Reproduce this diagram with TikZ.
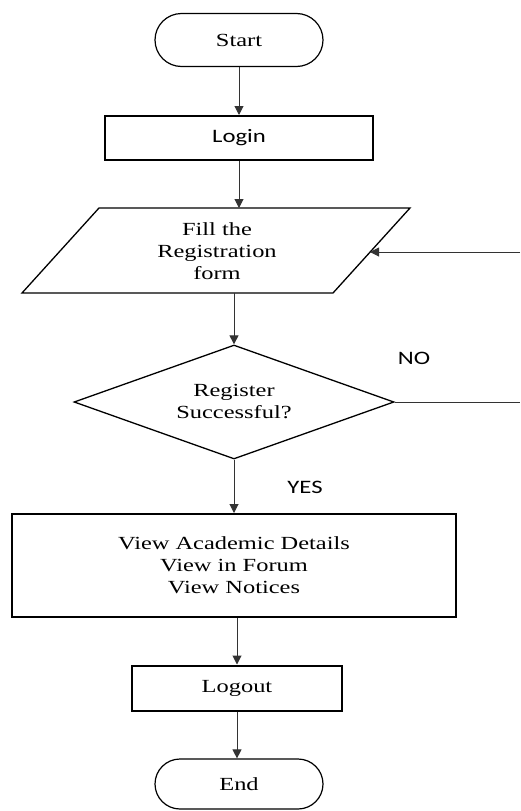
\documentclass[tikz,border=0pt]{standalone}
\usepackage{fontspec}
\setmainfont[FakeStretch=1.32]{Liberation Serif}
\newfontfamily\sansf[FakeStretch=1.3]{Carlito}
\usetikzlibrary{shapes.geometric,shapes.misc,arrows.meta}
\begin{document}
\begin{tikzpicture}[x=1pt,y=-1pt,
  txt/.style={font=\fontsize{18.5}{22}\selectfont, align=center, inner sep=0pt},
  stxt/.style={font=\sansf\fontsize{19}{22}\selectfont, inner sep=0pt},
  term/.style={draw=black, line width=1.2pt, rounded rectangle, minimum width=168pt, minimum height=53pt, inner sep=0pt, txt},
  boxx/.style={draw=black, line width=2pt, rectangle, inner sep=0pt},
  dec/.style={draw=black, line width=1.3pt, diamond, aspect=2.8, minimum width=320pt, minimum height=114pt, inner sep=0pt, txt},
  arr/.style={draw=black!80, line width=1pt, -{Triangle[width=9pt,length=9pt]}},
  ln/.style={draw=black!80, line width=1pt}
]
\useasboundingbox (0,0) rectangle (520,811);

\node[term] (start) at (239,40) {Start};
\node[boxx, minimum width=268pt, minimum height=44pt, stxt] (login) at (239,138) {Login};

% parallelogram
\draw[line width=1.3pt] (99,208) -- (410,208) -- (333,293) -- (22,293) -- cycle;
\coordinate (ptop) at (239,208);
\coordinate (pbot) at (234,293);
\coordinate (pright) at (370,252);
\node[txt] (fill) at (217,251) {Fill the\\Registration\\form};

\node[dec] (diam) at (234,402) {Register\\Successful?};

\node[boxx, minimum width=444pt, minimum height=103pt, txt] (view) at (234,565.5) {View Academic Details\\View in Forum\\View Notices};

\node[boxx, minimum width=210pt, minimum height=45pt, txt] (logout) at (237,688) {Logout};

\node[term, minimum height=50pt] (end) at (239,784) {End};

\node[stxt] (no) at (414,358) {NO};
\node[stxt] (yes) at (305,487) {YES};

\coordinate (rb) at (520,402);
\coordinate (rt) at (520,252);

\draw[arr] (start.south) -- (login.north);
\draw[arr] (login.south) -- (ptop);
\draw[arr] (pbot) -- (diam.north);
\draw[arr] (diam.south) -- (view.north);
\draw[arr] (view.south -| logout.north) -- (logout.north);
\draw[arr] (logout.south) -- (logout.south |- end.north);
\draw[ln] (diam.east) -- (rb);
\draw[arr] (rt) -- (pright);
\end{tikzpicture}
\end{document}
